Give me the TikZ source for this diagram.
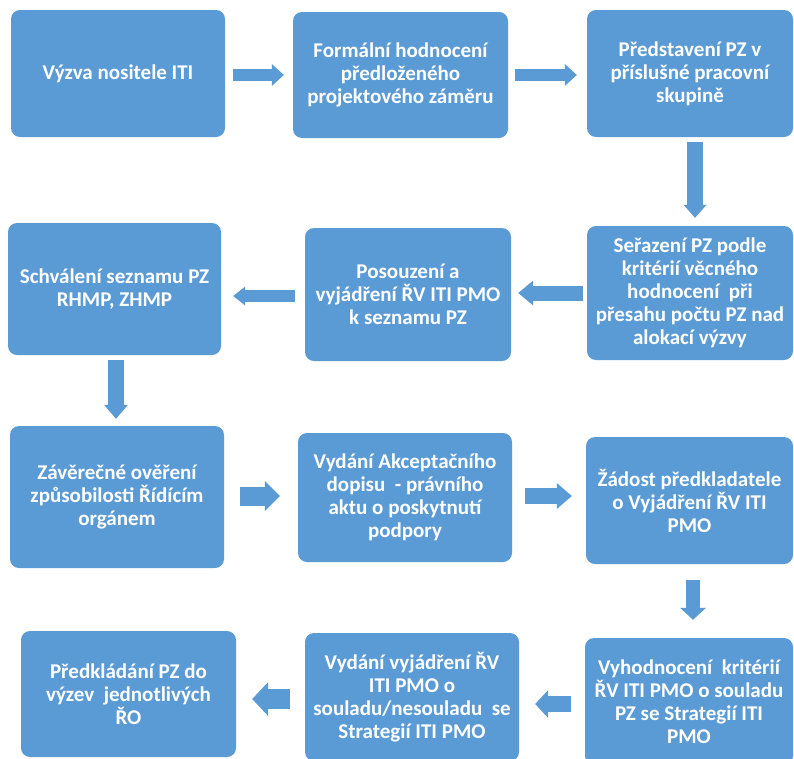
\documentclass[tikz,border=0pt]{standalone}
\usepackage{fontspec}
\setmainfont{Carlito}
\usetikzlibrary{arrows.meta,calc}
\definecolor{boxblue}{RGB}{91,155,213}
\tikzset{
  box/.style={fill=boxblue, draw=none, rounded corners=9pt, text=white,
    font=\bfseries\fontsize{21}{23}\selectfont, align=center, inner sep=2pt},
  barrow/.style n args={3}{draw=boxblue, line width=#1,
    -{Triangle[length=#3,width=#2,line width=0pt,fill=boxblue]}}
}
\begin{document}
\begin{tikzpicture}[x=1pt,y=-1pt]
\clip (0,0) rectangle (794,758);
\fill[white] (0,0) rectangle (794,758);

\node[box, minimum width=214pt, minimum height=127pt] (b1) at (118,73.5) {Výzva nositele ITI};
\node[box, minimum width=215pt, minimum height=126pt] (b2) at (400.5,75) {Formální hodnocení\\předloženého\\projektového záměru};
\node[box, minimum width=206pt, minimum height=127pt] (b3) at (690,73.5) {Představení PZ v\\příslušné pracovní\\skupině};
\node[box, minimum width=206pt, minimum height=134pt] (b4) at (690,293) {Seřazení PZ podle\\kritérií věcného\\hodnocení\ \ při\\přesahu počtu PZ nad\\alokací výzvy};
\node[box, minimum width=206pt, minimum height=133pt] (b5) at (408,294.5) {Posouzení a\\vyjádření ŘV ITI PMO\\k seznamu PZ};
\node[box, minimum width=213pt, minimum height=132pt] (b6) at (114.5,289) {Schválení seznamu PZ\\RHMP, ZHMP};
\node[box, minimum width=214pt, minimum height=142pt] (b7) at (117,497) {Závěrečné ověření\\způsobilosti Řídícím\\orgánem};
\node[box, minimum width=214pt, minimum height=129pt] (b8) at (405,497.5) {Vydání Akceptačního\\dopisu\ \ - právního\\aktu o poskytnutí\\podpory};
\node[box, minimum width=207pt, minimum height=127pt] (b9) at (689.5,500.5) {Žádost předkladatele\\o Vyjádření ŘV ITI\\PMO};
\node[box, minimum width=208pt, minimum height=127pt] (b10) at (689,701.5) {Vyhodnocení\ \ kritérií\\ŘV ITI PMO o souladu\\PZ se Strategií ITI\\PMO};
\node[box, minimum width=214pt, minimum height=128pt] (b11) at (412,697) {Vydání vyjádření ŘV\\ITI PMO o\\souladu/nesouladu\ \ se\\Strategií ITI PMO};
\node[box, minimum width=215pt, minimum height=126pt] (b12) at (128.5,694) {Předkládání PZ do\\výzev\ \ jednotlivých\\ŘO};

% connectors (block arrows)
\draw[barrow={12pt}{22pt}{12pt}, shorten <=8pt, shorten >=9pt] (b1.east |- b2.west) -- (b2.west);
\draw[barrow={12pt}{22pt}{12pt}, shorten <=7pt, shorten >=10pt] (b2.east) -- (b2.east -| b3.west);
\draw[barrow={16pt}{23pt}{13pt}, shorten <=5pt, shorten >=8pt] ([xshift=5pt]b3.south) -- ([xshift=5pt]b3.south |- b4.north);
\draw[barrow={15pt}{25pt}{15pt}, shorten <=4pt, shorten >=7pt] (b4.west) -- (b4.west -| b5.east);
\draw[barrow={12pt}{19pt}{12pt}, shorten <=10pt, shorten >=12pt] ([yshift=-1.5pt]b5.west) -- ([yshift=-1.5pt]b5.west -| b6.east);
\draw[barrow={16pt}{24pt}{14pt}, shorten <=5pt, shorten >=7pt] ([xshift=1.5pt]b6.south) -- ([xshift=1.5pt]b6.south |- b7.north);
\draw[barrow={19pt}{30pt}{15pt}, shorten <=16pt, shorten >=18pt] ([yshift=1pt]b7.east) -- ([yshift=1pt]b7.east -| b8.west);
\draw[barrow={16pt}{26pt}{15pt}, shorten <=13pt, shorten >=14pt] ([yshift=1.5pt]b8.east) -- ([yshift=1.5pt]b8.east -| b9.west);
\draw[barrow={14pt}{26pt}{12pt}, shorten <=16pt, shorten >=18pt] ([xshift=3.5pt]b9.south) -- ([xshift=3.5pt]b9.south |- b10.north);
\draw[barrow={16pt}{28pt}{13pt}, shorten <=14pt, shorten >=16pt] ([yshift=-2.5pt]b10.west) -- ([yshift=-2.5pt]b10.west -| b11.east);
\draw[barrow={20pt}{34pt}{16pt}, shorten <=15pt, shorten >=16pt] ([yshift=-2pt]b11.west) -- ([yshift=-2pt]b11.west -| b12.east);
\end{tikzpicture}
\end{document}
